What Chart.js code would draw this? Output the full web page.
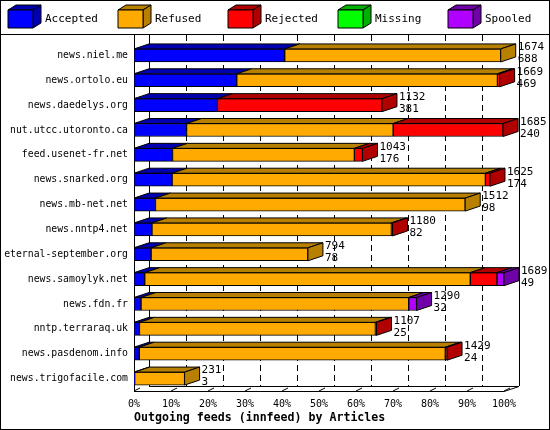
<!DOCTYPE html>
<html>
<head>
<meta charset="utf-8">
<script src="https://cdn.jsdelivr.net/npm/chart.js@4"></script>
<style>
  body { margin: 0; background: #fff; }
  canvas { display: block; }
</style>
</head>
<body>
<canvas id="myChart" width="550" height="430"></canvas>
<script>
const FEEDS = ['news.niel.me', 'news.ortolo.eu', 'news.daedelys.org', 'nut.utcc.utoronto.ca',
    'feed.usenet-fr.net', 'news.snarked.org', 'news.mb-net.net', 'news.nntp4.net',
    'eternal-september.org', 'news.samoylyk.net', 'news.fdn.fr', 'nntp.terraraq.uk',
    'news.pasdenom.info', 'news.trigofacile.com'];
const TOTALS   = [1674, 1669, 1132, 1685, 1043, 1625, 1512, 1180, 794, 1689, 1290, 1107, 1429, 231];
const ACCEPTED = [688, 469, 381, 240, 176, 174, 98, 82, 78, 49, 32, 25, 24, 3];
const REFUSED  = [986, 1190, 0, 943, 830, 1430, 1414, 1093, 716, 1486, 1222, 1077, 1397, 228];
const REJECTED = [0, 10, 751, 502, 37, 21, 0, 5, 0, 122, 0, 5, 8, 0];
const MISSING  = [0, 0, 0, 0, 0, 0, 0, 0, 0, 0, 0, 0, 0, 0];
const SPOOLED  = [0, 0, 0, 0, 0, 0, 0, 0, 0, 32, 36, 0, 0, 0];
const MAX_ARTICLES = 1689;
const TICK_LABELS = ['0%', '10%', '20%', '30%', '40%', '50%', '60%', '70%', '80%', '90%', '100%'];

const SERIES = [
    { label: 'Accepted', data: ACCEPTED, front: '#0000ff', dark: '#0000b0' },
    { label: 'Refused',  data: REFUSED,  front: '#ffaa00', dark: '#b88000' },
    { label: 'Rejected', data: REJECTED, front: '#ff0000', dark: '#b00000' },
    { label: 'Missing',  data: MISSING,  front: '#00ff00', dark: '#00b000' },
    { label: 'Spooled',  data: SPOOLED,  front: '#b000ff', dark: '#7000a8' }
];

const DX = 15, DY = 5;
const FONT = '"DejaVu Sans Mono", monospace';

function poly(ctx, pts, fill) {
    ctx.beginPath();
    ctx.moveTo(pts[0][0], pts[0][1]);
    pts.slice(1).forEach(p => ctx.lineTo(p[0], p[1]));
    ctx.closePath();
    ctx.fillStyle = fill;
    ctx.fill();
    ctx.stroke();
}

const frame3d = {
    id: 'frame3d',
    beforeDatasetsDraw(chart) {
        const ctx = chart.ctx, a = chart.chartArea, xs = chart.scales.x;
        ctx.save();
        ctx.strokeStyle = '#000';
        ctx.lineWidth = 1;
        const right = xs.getPixelForValue(MAX_ARTICLES);
        ctx.beginPath();
        ctx.moveTo(a.left + DX + 0.5, 35);
        ctx.lineTo(a.left + DX + 0.5, a.bottom - DY);
        ctx.moveTo(right + DX + 0.5, 35);
        ctx.lineTo(right + DX + 0.5, a.bottom - DY);
        ctx.moveTo(a.left + 0.5, 35);
        ctx.lineTo(a.left + 0.5, a.bottom);
        ctx.stroke();
        ctx.setLineDash([6, 4]);
        for (let i = 1; i < 10; i++) {
            const x = Math.round(xs.getPixelForValue(MAX_ARTICLES * i / 10)) + DX + 0.5;
            ctx.beginPath();
            ctx.moveTo(x, 35);
            ctx.lineTo(x, a.bottom - DY);
            ctx.stroke();
        }
        ctx.setLineDash([]);
        ctx.beginPath();
        ctx.moveTo(a.left, a.bottom + 0.5);
        ctx.lineTo(right, a.bottom + 0.5);
        ctx.lineTo(right + DX, a.bottom - DY + 0.5);
        ctx.lineTo(a.left + DX, a.bottom - DY + 0.5);
        ctx.stroke();
        for (let i = 0; i <= 10; i++) {
            const x = xs.getPixelForValue(MAX_ARTICLES * i / 10);
            ctx.beginPath();
            ctx.moveTo(x, a.bottom);
            ctx.lineTo(x + 6, a.bottom - 3);
            ctx.stroke();
        }
        ctx.restore();
    },
    afterDatasetsDraw(chart) {
        const ctx = chart.ctx;
        ctx.save();
        ctx.strokeStyle = '#000';
        ctx.lineWidth = 1;
        FEEDS.forEach((feed, row) => {
            let last = null;
            SERIES.forEach((s, di) => {
                const el = chart.getDatasetMeta(di).data[row];
                if (!s.data[row]) return;
                const top = el.y - el.height / 2, l = el.base, r = el.x;
                poly(ctx, [[l, top], [l + DX, top - DY], [r + DX, top - DY], [r, top]], s.dark);
                last = { el, s };
            });
            if (last) {
                const el = last.el, top = el.y - el.height / 2, bot = el.y + el.height / 2;
                poly(ctx, [[el.x, top], [el.x + DX, top - DY], [el.x + DX, bot - DY], [el.x, bot]], last.s.dark);
                ctx.fillStyle = '#000';
                ctx.font = '11px ' + FONT;
                ctx.textAlign = 'left';
                ctx.textBaseline = 'middle';
                ctx.fillText(String(TOTALS[row]), el.x + DX + 2, el.y - 8);
                ctx.fillText(String(ACCEPTED[row]), el.x + DX + 2, el.y + 4);
            }
        });
        ctx.restore();
    },
    afterDraw(chart) {
        const ctx = chart.ctx;
        ctx.save();
        ctx.strokeStyle = '#000';
        ctx.lineWidth = 1;
        ctx.strokeRect(0.5, 0.5, 549, 429);
        ctx.beginPath();
        ctx.moveTo(0, 34.5);
        ctx.lineTo(550, 34.5);
        ctx.stroke();
        ctx.font = '11px ' + FONT;
        ctx.textBaseline = 'middle';
        ctx.textAlign = 'left';
        SERIES.forEach((s, i) => {
            const x = 8 + i * 110, y = 10;
            poly(ctx, [[x, y], [x + 8, y - 5], [x + 33, y - 5], [x + 25, y]], s.dark);
            poly(ctx, [[x + 25, y], [x + 33, y - 5], [x + 33, y + 13], [x + 25, y + 18]], s.dark);
            poly(ctx, [[x, y], [x + 25, y], [x + 25, y + 18], [x, y + 18]], s.front);
            ctx.fillStyle = '#000';
            ctx.fillText(s.label, x + 37, 19);
        });
        ctx.restore();
    }
};

new Chart(document.getElementById('myChart').getContext('2d'), {
    type: 'bar',
    data: {
        labels: FEEDS,
        datasets: SERIES.map(s => ({
            label: s.label,
            data: s.data,
            backgroundColor: s.front,
            borderColor: '#000',
            borderWidth: 1,
            borderSkipped: false,
            barThickness: 13
        }))
    },
    options: {
        indexAxis: 'y',
        responsive: false,
        animation: false,
        layout: { padding: { top: 43, right: 46, left: 0, bottom: 0 } },
        plugins: { legend: { display: false }, tooltip: { enabled: false } },
        scales: {
            x: {
                stacked: true,
                min: 0,
                max: MAX_ARTICLES,
                grid: { display: false, drawTicks: false },
                border: { display: false },
                afterBuildTicks: s => { s.ticks = TICK_LABELS.map((t, i) => ({ value: MAX_ARTICLES * i / 10 })); },
                afterFit: s => { s.height = 39; },
                ticks: {
                    autoSkip: false,
                    maxRotation: 0,
                    padding: 7,
                    color: '#000',
                    font: { family: FONT, size: 10 },
                    callback: (v, i) => TICK_LABELS[i]
                },
                title: {
                    display: true,
                    align: 'start',
                    text: 'Outgoing feeds (innfeed) by Articles',
                    color: '#000',
                    padding: { top: 0, bottom: 5 },
                    font: { family: FONT, size: 11.6, weight: 'bold' }
                }
            },
            y: {
                stacked: true,
                grid: { display: false, drawTicks: false },
                border: { display: false },
                afterFit: s => { s.width = 134; },
                ticks: { color: '#000', padding: 6, font: { family: FONT, size: 9.8 } }
            }
        }
    },
    plugins: [frame3d]
});
</script>
</body>
</html>
